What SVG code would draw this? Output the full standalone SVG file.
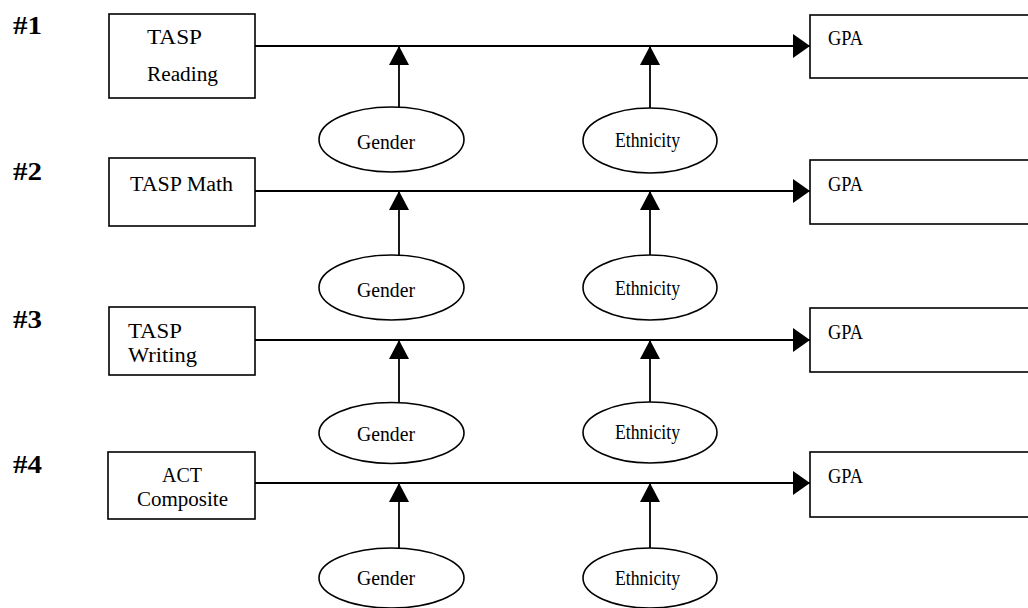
<svg xmlns="http://www.w3.org/2000/svg" width="1028" height="608" viewBox="0 0 1028 608">
<style>
.box{fill:#fff;stroke:#000;stroke-width:1.6}
.ell{fill:#fff;stroke:#000;stroke-width:1.6}
.t{font-family:"Liberation Serif","Times New Roman",serif;font-size:20px;fill:#000}
.n{font-family:"Liberation Serif","Times New Roman",serif;font-size:26px;font-weight:bold;fill:#000}
.ln{stroke:#000;stroke-width:1.8;fill:none}
</style>
<defs>
<marker id="ah" markerUnits="userSpaceOnUse" markerWidth="17" markerHeight="24" refX="17" refY="12" orient="auto" viewBox="0 0 17 24"><path d="M0,0 L17,12 L0,24 z" fill="#000"/></marker>
<marker id="av" markerUnits="userSpaceOnUse" markerWidth="19" markerHeight="20" refX="19" refY="10" orient="auto" viewBox="0 0 19 20"><path d="M0,0 L19,10 L0,20 z" fill="#000"/></marker>
</defs>
<rect width="1028" height="608" fill="#fff"/>
<g id="labels">
<text class="n" x="13" y="34" textLength="29" lengthAdjust="spacingAndGlyphs">#1</text>
<text class="n" x="13" y="180" textLength="29" lengthAdjust="spacingAndGlyphs">#2</text>
<text class="n" x="13" y="328" textLength="29" lengthAdjust="spacingAndGlyphs">#3</text>
<text class="n" x="13" y="473" textLength="29" lengthAdjust="spacingAndGlyphs">#4</text>
</g>
<g id="connectors">
<line class="ln" x1="255" y1="46" x2="810" y2="46" marker-end="url(#ah)"/>
<line class="ln" x1="255" y1="191" x2="810" y2="191" marker-end="url(#ah)"/>
<line class="ln" x1="255" y1="340" x2="810" y2="340" marker-end="url(#ah)"/>
<line class="ln" x1="255" y1="483" x2="810" y2="483" marker-end="url(#ah)"/>
<line class="ln" x1="399" y1="107" x2="399" y2="46" marker-end="url(#av)"/>
<line class="ln" x1="650" y1="108" x2="650" y2="46" marker-end="url(#av)"/>
<line class="ln" x1="399" y1="255" x2="399" y2="191" marker-end="url(#av)"/>
<line class="ln" x1="650" y1="255" x2="650" y2="191" marker-end="url(#av)"/>
<line class="ln" x1="399" y1="403" x2="399" y2="340" marker-end="url(#av)"/>
<line class="ln" x1="650" y1="402" x2="650" y2="340" marker-end="url(#av)"/>
<line class="ln" x1="399" y1="548" x2="399" y2="483" marker-end="url(#av)"/>
<line class="ln" x1="650" y1="548" x2="650" y2="483" marker-end="url(#av)"/>
</g>
<g id="tasp-reading">
<rect class="box" x="109" y="14" width="146" height="84"/>
<text class="t" x="147" y="44" textLength="55" lengthAdjust="spacingAndGlyphs">TASP</text>
<text class="t" x="147" y="81" textLength="71" lengthAdjust="spacingAndGlyphs">Reading</text>
</g>
<g id="gpa1">
<rect class="box" x="810" y="15" width="230" height="63"/>
<text class="t" x="828" y="45" textLength="35" lengthAdjust="spacingAndGlyphs">GPA</text>
</g>
<g id="gender1">
<ellipse class="ell" cx="391.5" cy="139.5" rx="72.5" ry="32.5"/>
<text class="t" x="357" y="149" textLength="58" lengthAdjust="spacingAndGlyphs">Gender</text>
</g>
<g id="ethnicity1">
<ellipse class="ell" cx="650" cy="140.5" rx="67" ry="32.5"/>
<text class="t" x="615" y="147" textLength="65" lengthAdjust="spacingAndGlyphs">Ethnicity</text>
</g>
<g id="tasp-math">
<rect class="box" x="109" y="158" width="146" height="68"/>
<text class="t" x="130" y="191" textLength="103" lengthAdjust="spacingAndGlyphs">TASP Math</text>
</g>
<g id="gpa2">
<rect class="box" x="810" y="160" width="230" height="64"/>
<text class="t" x="828" y="191" textLength="35" lengthAdjust="spacingAndGlyphs">GPA</text>
</g>
<g id="gender2">
<ellipse class="ell" cx="391.5" cy="287.5" rx="72.5" ry="32.5"/>
<text class="t" x="357" y="297" textLength="58" lengthAdjust="spacingAndGlyphs">Gender</text>
</g>
<g id="ethnicity2">
<ellipse class="ell" cx="650" cy="287.5" rx="67" ry="32.5"/>
<text class="t" x="615" y="295" textLength="65" lengthAdjust="spacingAndGlyphs">Ethnicity</text>
</g>
<g id="tasp-writing">
<rect class="box" x="109" y="307" width="146" height="68"/>
<text class="t" x="128" y="338" textLength="54" lengthAdjust="spacingAndGlyphs">TASP</text>
<text class="t" x="128" y="362" textLength="69" lengthAdjust="spacingAndGlyphs">Writing</text>
</g>
<g id="gpa3">
<rect class="box" x="810" y="308" width="230" height="64"/>
<text class="t" x="828" y="339" textLength="35" lengthAdjust="spacingAndGlyphs">GPA</text>
</g>
<g id="gender3">
<ellipse class="ell" cx="391.5" cy="433" rx="72.5" ry="30.5"/>
<text class="t" x="357" y="441" textLength="58" lengthAdjust="spacingAndGlyphs">Gender</text>
</g>
<g id="ethnicity3">
<ellipse class="ell" cx="650" cy="432.5" rx="67" ry="30.5"/>
<text class="t" x="615" y="439" textLength="65" lengthAdjust="spacingAndGlyphs">Ethnicity</text>
</g>
<g id="act-composite">
<rect class="box" x="108" y="452" width="147" height="67"/>
<text class="t" x="162" y="482" textLength="40" lengthAdjust="spacingAndGlyphs">ACT</text>
<text class="t" x="137" y="506" textLength="91" lengthAdjust="spacingAndGlyphs">Composite</text>
</g>
<g id="gpa4">
<rect class="box" x="810" y="452" width="230" height="65"/>
<text class="t" x="828" y="483" textLength="35" lengthAdjust="spacingAndGlyphs">GPA</text>
</g>
<g id="gender4">
<ellipse class="ell" cx="391.5" cy="578" rx="72.5" ry="30"/>
<text class="t" x="357" y="585" textLength="58" lengthAdjust="spacingAndGlyphs">Gender</text>
</g>
<g id="ethnicity4">
<ellipse class="ell" cx="650" cy="578" rx="67" ry="30"/>
<text class="t" x="615" y="585" textLength="65" lengthAdjust="spacingAndGlyphs">Ethnicity</text>
</g>
</svg>
